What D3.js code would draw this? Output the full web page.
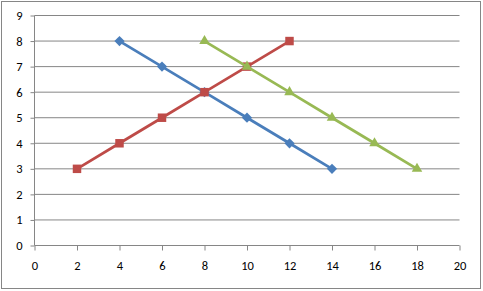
<!DOCTYPE html>
<html>
<head>
<meta charset="utf-8">
<style>
  * { margin: 0; padding: 0; }
  body { background: #fff; }
  svg { display: block; }
  text { font-family: Calibri, Carlito, "Liberation Sans", Arial, sans-serif; font-size: 12.5px; fill: #000; }
</style>
</head>
<body>
<svg id="chart" width="483" height="291"></svg>
<script src="https://cdn.jsdelivr.net/npm/d3@7"></script>
<script>
// data
const blueX = [4, 6, 8, 10, 12, 14];
const blueY = [8, 7, 6, 5, 4, 3];
const redX = [2, 4, 6, 8, 10, 12];
const redY = [3, 4, 5, 6, 7, 8];
const greenX = [8, 10, 12, 14, 16, 18];
const greenY = [8, 7, 6, 5, 4, 3];
const xTicks = [0, 2, 4, 6, 8, 10, 12, 14, 16, 18, 20];
const yTicks = [0, 1, 2, 3, 4, 5, 6, 7, 8, 9];

// excel-ish diamond: a square turned 45 degrees
const wideDiamond = {
  draw(ctx, size) {
    const r = Math.sqrt(size / 2);
    ctx.moveTo(0, -r); ctx.lineTo(r, 0); ctx.lineTo(0, r); ctx.lineTo(-r, 0); ctx.closePath();
  }
};

const series = [
  { xs: blueX, ys: blueY, color: "#4A7EBB", shape: wideDiamond, size: 52 },
  { xs: redX, ys: redY, color: "#BE4B48", shape: d3.symbolSquare, size: 72 },
  { xs: greenX, ys: greenY, color: "#98B954", shape: d3.symbolTriangle, size: 48 }
];

const svg = d3.select("#chart");
const grid = "#868686";

// outer border
svg.append("rect").attr("x", 1.5).attr("y", 1.5).attr("width", 479).attr("height", 287)
  .attr("fill", "#fff").attr("stroke", grid).attr("stroke-width", 1);

const x = d3.scaleLinear().domain([0, 20]).range([34.5, 459.5]);
const y = d3.scaleLinear().domain([0, 9]).range([245.5, 15.5]);

// horizontal gridlines
svg.append("g").selectAll("line").data(yTicks.filter(d => d > 0)).join("line")
  .attr("x1", x(0)).attr("x2", x(20))
  .attr("y1", d => y(d)).attr("y2", d => y(d))
  .attr("stroke", grid).attr("stroke-width", 1);

// axes
const xAxis = d3.axisBottom(x).tickValues(xTicks).tickSize(5).tickPadding(11).tickFormat(d3.format("d"));
const gx = svg.append("g").attr("transform", `translate(0,${y(0)})`).call(xAxis);
const yAxis = d3.axisLeft(y).tickValues(yTicks).tickSize(4).tickPadding(8).tickFormat(d3.format("d"));
const gy = svg.append("g").attr("transform", `translate(${x(0)},0)`).call(yAxis);
[gx, gy].forEach(g => {
  g.selectAll("path, line").attr("stroke", grid);
  g.select(".domain").attr("d", g === gx ? `M${x(0)},0H${x(20)}` : `M0,${y(0)}V${y(9)}`);
  g.selectAll("text").attr("font-size", 12.5).attr("font-family", "Calibri, Carlito, 'Liberation Sans', Arial, sans-serif");
});

// series
const line = d3.line().x(d => x(d[0])).y(d => y(d[1]));
series.forEach(s => {
  const pts = s.xs.map((v, i) => [v, s.ys[i]]);
  svg.append("path").datum(pts).attr("d", line)
    .attr("fill", "none").attr("stroke", s.color).attr("stroke-width", 2.75)
    .attr("stroke-linejoin", "round").attr("stroke-linecap", "round");
  svg.append("g").selectAll("path").data(pts).join("path")
    .attr("transform", d => `translate(${x(d[0])},${y(d[1])})`)
    .attr("d", d3.symbol().type(s.shape).size(s.size))
    .attr("fill", s.color);
});
</script>
</body>
</html>
